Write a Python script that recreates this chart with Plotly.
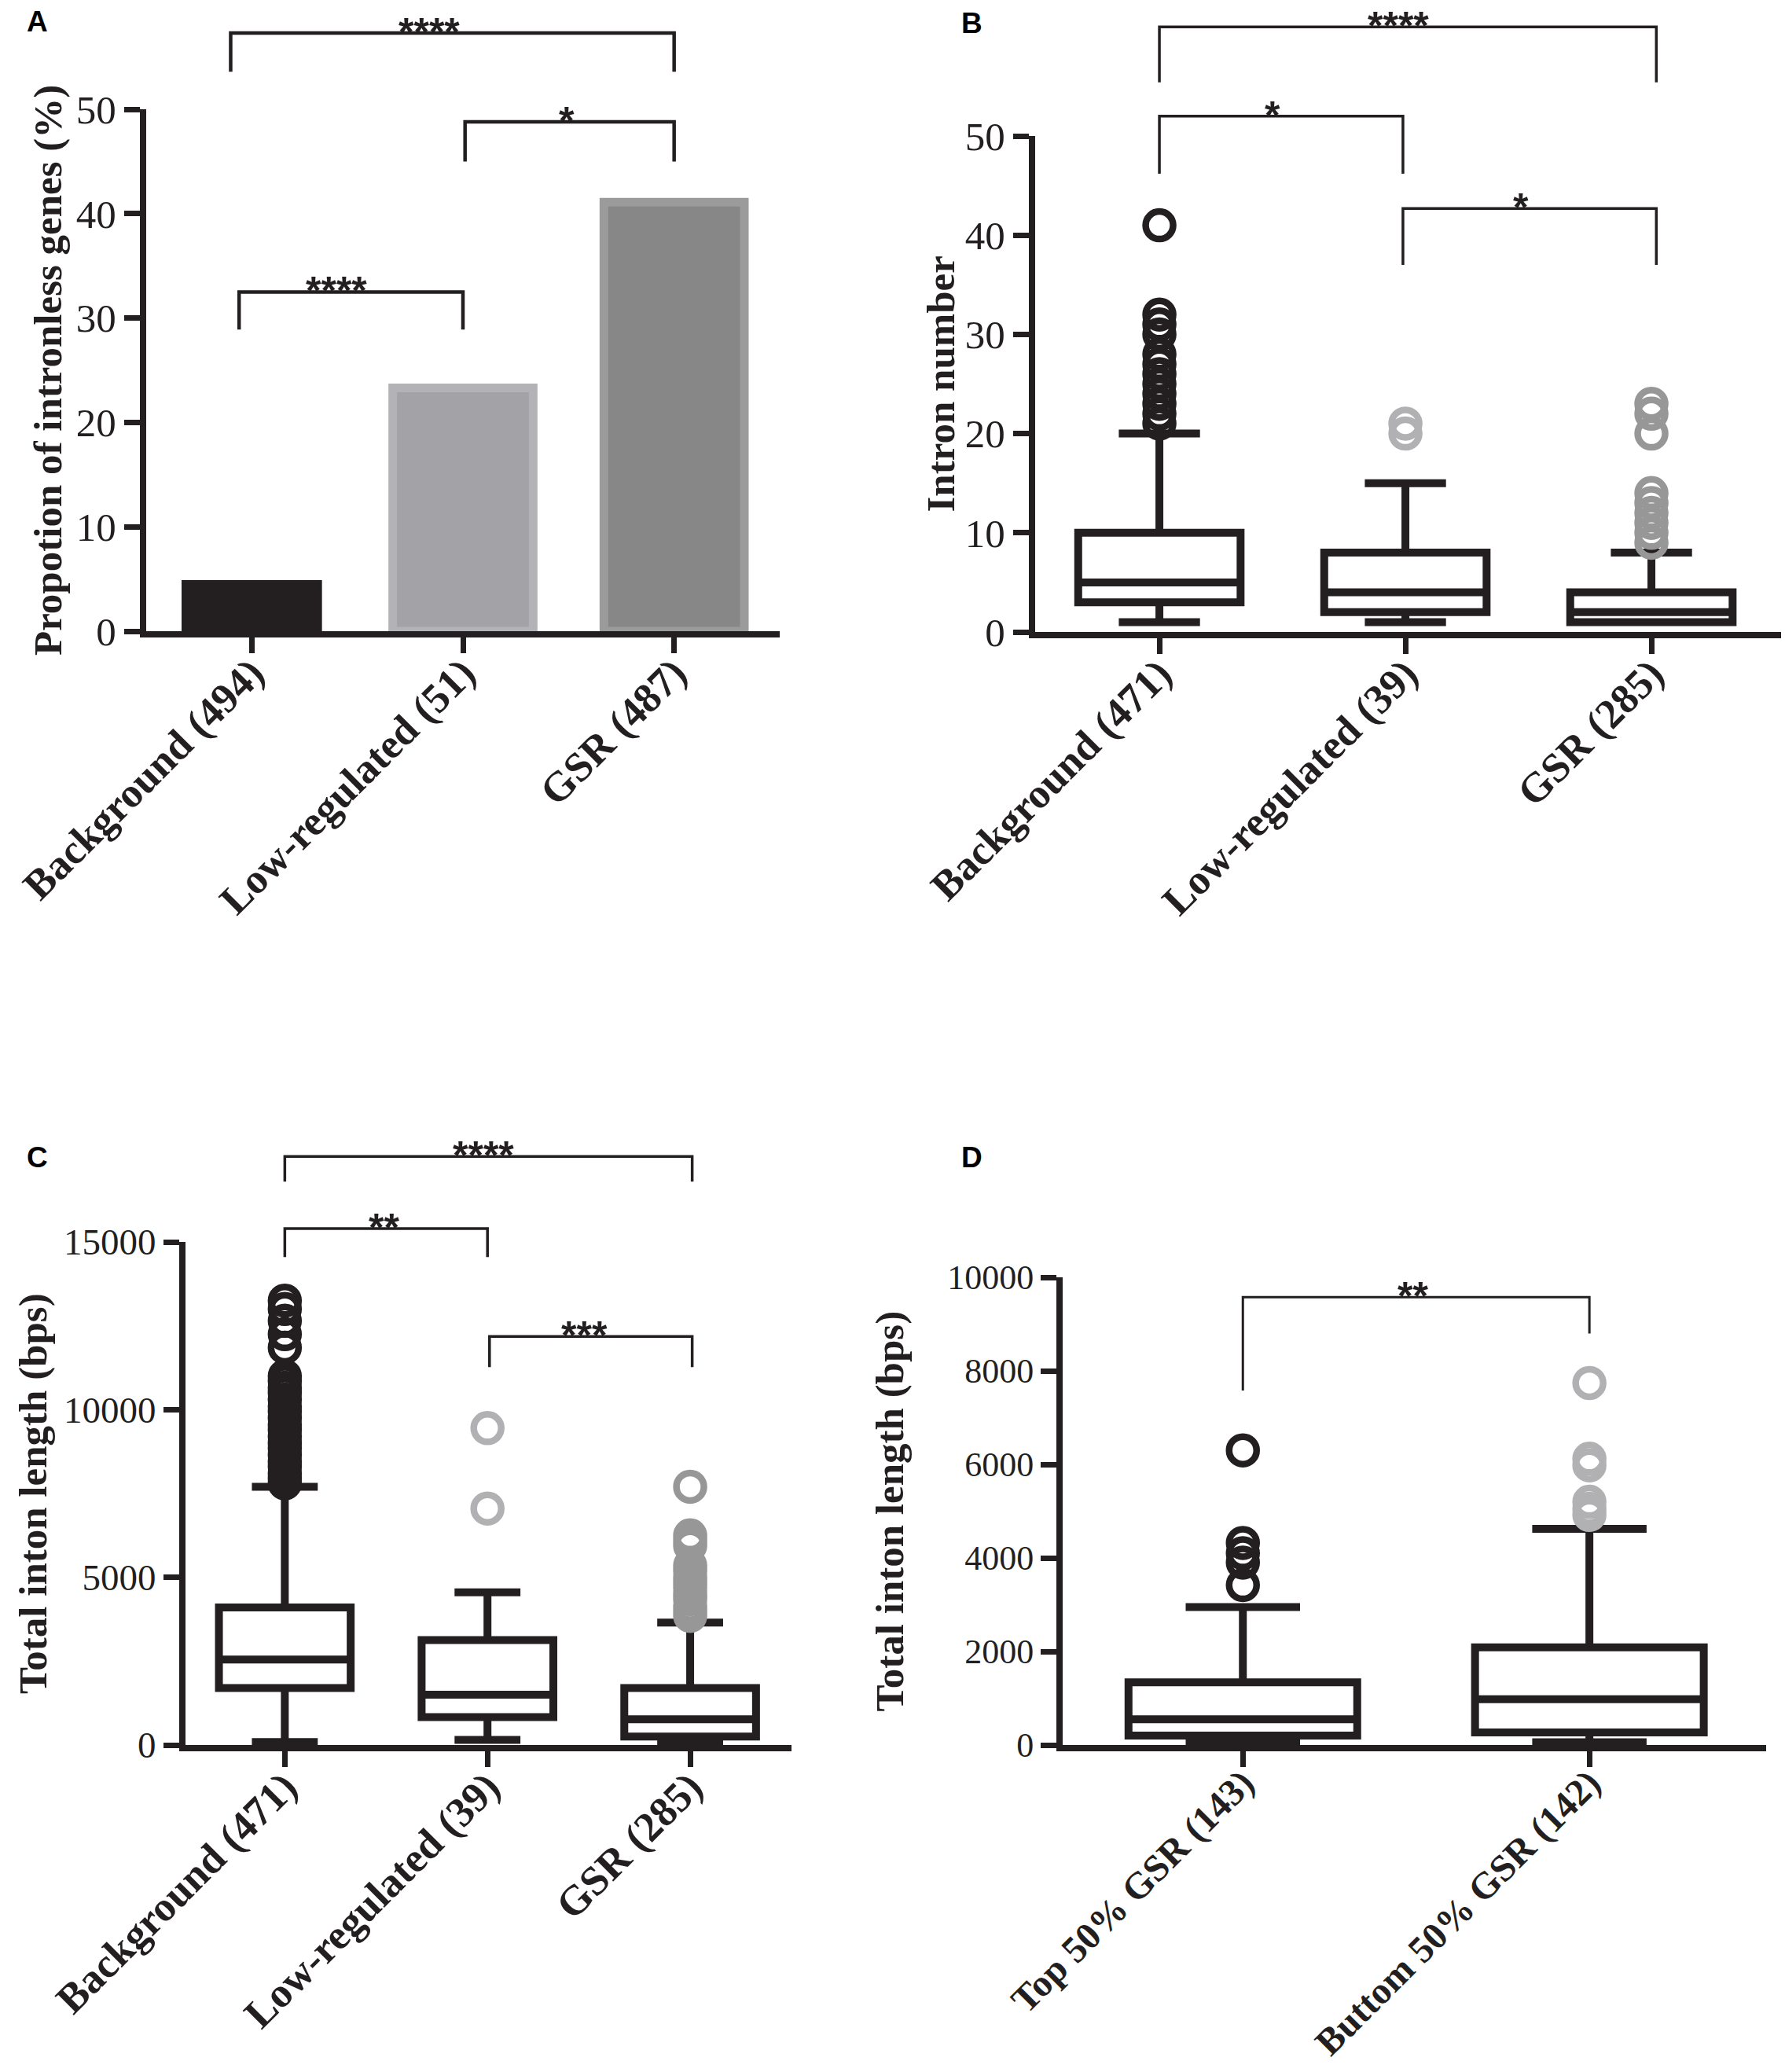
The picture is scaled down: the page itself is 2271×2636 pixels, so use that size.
import plotly.graph_objects as go

# ---------------- DATA ----------------
# Panel A: proportion of intronless genes (%)
a_categories = ["Background (494)", "Low-regulated (51)", "GSR (487)"]
a_values = [4.9, 23.3, 41.1]
a_br_left = [-0.10, 1.01, -0.06]
a_br_right = [2.0, 2.0, 1.0]
a_br_y = [57.3, 48.8, 32.5]
a_br_lbot = [53.6, 45.0, 28.9]
a_br_rbot = [53.6, 45.0, 28.9]
a_br_label = ["****", "*", "****"]
a_br_label_x = [0.84, 1.49, 0.40]

# Panel B: intron number
b_categories = ["Background (471)", "Low-regulated (39)", "GSR (285)"]
b_low = [1, 1, 1]
b_q1 = [3, 2, 1]
b_median = [5, 4, 2]
b_q3 = [10, 8, 4]
b_high = [20, 15, 8]
b_outliers = [
    [21, 22, 23, 24, 25, 26, 27, 28, 30, 31, 32, 41],
    [20, 21],
    [9, 10, 11, 12, 13, 14, 20, 22, 23],
]
b_br_left = [0.0, 0.0, 0.99]
b_br_right = [2.02, 0.99, 2.02]
b_br_y = [61.0, 52.0, 42.7]
b_br_lbot = [55.4, 46.2, 37.0]
b_br_rbot = [55.4, 46.2, 37.0]
b_br_label = ["****", "*", "*"]
b_br_label_x = [0.97, 0.46, 1.47]

# Panel C: total intron length (bps)
c_categories = ["Background (471)", "Low-regulated (39)", "GSR (285)"]
c_low = [90, 150, 60]
c_q1 = [1700, 830, 250]
c_median = [2550, 1500, 770]
c_q3 = [4100, 3130, 1700]
c_high = [7700, 4550, 3650]
c_outliers = [
    [7800, 7950, 8100, 8300, 8450, 8650, 8850, 9000, 9200, 9400, 9550, 9750,
     9950, 10100, 10300, 10500, 10650, 10850, 11000, 11850, 12250, 12650,
     13000, 13250],
    [7050, 9450],
    [3850, 4000, 4150, 4350, 4500, 4700, 4850, 5000, 5200, 5350, 5950, 6100,
     6250, 7700],
]
c_br_left = [0.0, 0.0, 1.01]
c_br_right = [2.01, 1.0, 2.01]
c_br_y = [17550, 15400, 12180]
c_br_lbot = [16800, 14550, 11270]
c_br_rbot = [16800, 14550, 11270]
c_br_label = ["****", "**", "***"]
c_br_label_x = [0.98, 0.49, 1.48]

# Panel D: total intron length, top / bottom 50% GSR
d_categories = ["Top 50% GSR (143)", "Buttom 50% GSR (142)"]
d_low = [60, 60]
d_q1 = [200, 270]
d_median = [550, 980]
d_q3 = [1340, 2090]
d_high = [2950, 4620]
d_outliers = [
    [3420, 3900, 4100, 4320, 6300],
    [4920, 5050, 5200, 5980, 6120, 7740],
]
d_br_left = [0.0]
d_br_right = [1.0]
d_br_y = [9575]
d_br_lbot = [7580]
d_br_rbot = [8800]
d_br_label = ["**"]
d_br_label_x = [0.49]

# ---------------- STYLE ----------------
W, H = 2271, 2636
INK = "#231f20"
SERIF = "Liberation Serif"
SANS = "Liberation Sans"


def fx(p):
    return p / W


def fy(p):
    return 1 - p / H


def ax_key(kind, n):
    return kind + "axis" + ("" if n == 1 else str(n))


def ax_ref(kind, n):
    return kind + ("" if n == 1 else str(n))


panels = {
    "A": dict(n=1, xd=(186, 992), yd=(139, 803), xr=(-0.5, 2.5), yr=(0, 50), dt=10,
              top=0, tx=61, lp=(47, 27), cats=a_categories, tfs=51, cfs=53),
    "B": dict(n=2, xd=(1317, 2266), yd=(173, 804), xr=(-0.505, 2.527), yr=(0, 50), dt=10,
              top=0, tx=1197, lp=(1236, 30), cats=b_categories, tfs=51, cfs=53),
    "C": dict(n=3, xd=(236, 1007), yd=(1580, 2220), xr=(-0.49, 2.5), yr=(0, 15000), dt=5000,
              top=1400, tx=42, lp=(47, 1472), cats=c_categories, tfs=47, cfs=53),
    "D": dict(n=4, xd=(1352, 2247), yd=(1625, 2220), xr=(-0.52, 1.51), yr=(0, 10000), dt=2000,
              top=1400, tx=1132, lp=(1236, 1472), cats=d_categories, tfs=44, cfs=48),
}
titles = {
    "A": "Propotion of intronless genes (%)",
    "B": "Intron number",
    "C": "Total inton length (bps)",
    "D": "Total inton length (bps)",
}

fig = go.Figure()
layout = dict(
    width=W, height=H, margin=dict(l=0, r=0, t=0, b=0),
    paper_bgcolor="white", plot_bgcolor="rgba(0,0,0,0)", showlegend=False,
    boxmode="overlay", barmode="overlay",
)
annotations = []

for key, p in panels.items():
    n = p["n"]
    o = n + 4
    xd = [fx(p["xd"][0]), fx(p["xd"][1])]
    yd = [fy(p["yd"][1]), fy(p["yd"][0])]
    layout[ax_key("x", n)] = dict(
        domain=xd, range=list(p["xr"]), anchor=ax_ref("y", n),
        showline=True, linecolor=INK, linewidth=8, mirror=False,
        ticks="outside", ticklen=20, tickwidth=7, tickcolor=INK,
        tickmode="array", tickvals=list(range(len(p["cats"]))), ticktext=p["cats"],
        tickangle=-45, ticklabelstandoff=-27,
        tickfont=dict(family=SERIF, size=p["cfs"], color=INK, weight="bold"),
        showgrid=False, zeroline=False, automargin=False, fixedrange=True,
    )
    layout[ax_key("y", n)] = dict(
        domain=yd, range=list(p["yr"]), anchor=ax_ref("x", n),
        showline=True, linecolor=INK, linewidth=8,
        ticks="outside", ticklen=20, tickwidth=7, tickcolor=INK,
        dtick=p["dt"], tick0=0, tickformat="d",
        tickfont=dict(family=SERIF, size=p["tfs"], color=INK),
        showgrid=False, zeroline=False, automargin=False, fixedrange=True,
    )
    main_h = p["yd"][1] - p["yd"][0]
    ext_h = p["yd"][1] - p["top"]
    layout[ax_key("x", o)] = dict(
        domain=xd, range=list(p["xr"]), anchor=ax_ref("y", o), visible=False,
        fixedrange=True,
    )
    layout[ax_key("y", o)] = dict(
        domain=[fy(p["yd"][1]), fy(p["top"])],
        range=[p["yr"][0], p["yr"][0] + (p["yr"][1] - p["yr"][0]) * ext_h / main_h],
        anchor=ax_ref("x", o), visible=False, fixedrange=True,
    )
    annotations.append(dict(
        text="<b>" + titles[key] + "</b>", xref="paper", yref="paper",
        x=fx(p["tx"]), y=(yd[0] + yd[1]) / 2, textangle=-90,
        xanchor="center", yanchor="middle", showarrow=False,
        font=dict(family=SERIF, size=51, color=INK),
    ))
    annotations.append(dict(
        text="<b>" + key + "</b>", xref="paper", yref="paper",
        x=fx(p["lp"][0]), y=fy(p["lp"][1]), xanchor="center", yanchor="middle",
        showarrow=False, font=dict(family=SANS, size=37, color="black"),
    ))

# ---- Panel A bars ----
fig.add_trace(go.Bar(
    x=list(range(len(a_categories))), y=a_values, width=0.665,
    marker=dict(color=[INK, "#a3a3a7", "#878787"],
                line=dict(color=[INK, "#b3b3b7", "#9b9b9b"], width=[0, 11, 11])),
    xaxis="x", yaxis="y", hoverinfo="skip",
))

# ---- Box panels ----
box_sets = [
    (2, b_low, b_q1, b_median, b_q3, b_high, b_outliers, [INK, "#b1b1b3", "#979797"], 0.66),
    (3, c_low, c_q1, c_median, c_q3, c_high, c_outliers, [INK, "#b1b1b3", "#979797"], 0.65),
    (4, d_low, d_q1, d_median, d_q3, d_high, d_outliers, [INK, "#b1b1b3"], 0.66),
]
for n, lo, q1, med, q3, hi, outs, ocols, bw in box_sets:
    for i in range(len(q1)):
        fig.add_trace(go.Box(
            x=[i], lowerfence=[lo[i]], q1=[q1[i]], median=[med[i]], q3=[q3[i]],
            upperfence=[hi[i]], boxpoints=False, width=bw, whiskerwidth=0.5,
            fillcolor="white", line=dict(color=INK, width=10),
            xaxis=ax_ref("x", n), yaxis=ax_ref("y", n), hoverinfo="skip",
        ))
        fig.add_trace(go.Scatter(
            x=[i] * len(outs[i]), y=outs[i], mode="markers", cliponaxis=False,
            marker=dict(symbol="circle-open", size=35, color=ocols[i],
                        line=dict(width=8.5, color=ocols[i])),
            xaxis=ax_ref("x", n), yaxis=ax_ref("y", n), hoverinfo="skip",
        ))

# ---- Significance brackets ----
bracket_sets = [
    (1, a_br_left, a_br_right, a_br_y, a_br_lbot, a_br_rbot, a_br_label, a_br_label_x, 4.5),
    (2, b_br_left, b_br_right, b_br_y, b_br_lbot, b_br_rbot, b_br_label, b_br_label_x, 3.5),
    (3, c_br_left, c_br_right, c_br_y, c_br_lbot, c_br_rbot, c_br_label, c_br_label_x, 3.5),
    (4, d_br_left, d_br_right, d_br_y, d_br_lbot, d_br_rbot, d_br_label, d_br_label_x, 3),
]
for n, L, R, Y, LB, RB, LAB, LX, lw in bracket_sets:
    o = n + 4
    for i in range(len(L)):
        fig.add_trace(go.Scatter(
            x=[L[i], L[i], R[i], R[i]], y=[LB[i], Y[i], Y[i], RB[i]],
            mode="lines", line=dict(color=INK, width=lw), cliponaxis=False,
            xaxis=ax_ref("x", o), yaxis=ax_ref("y", o), hoverinfo="skip",
        ))
        annotations.append(dict(
            text=LAB[i], x=LX[i], y=Y[i], xref=ax_ref("x", o), yref=ax_ref("y", o),
            xanchor="center", yanchor="middle", yshift=1, showarrow=False,
            font=dict(family=SANS, size=50, color=INK, weight="bold"),
        ))

layout["annotations"] = annotations
fig.update_layout(**layout)
fig.write_html(
    "out.html",
    config={"displayModeBar": False, "staticPlot": True},
    post_script="document.body.style.margin='0';document.body.style.overflow='hidden';",
)
